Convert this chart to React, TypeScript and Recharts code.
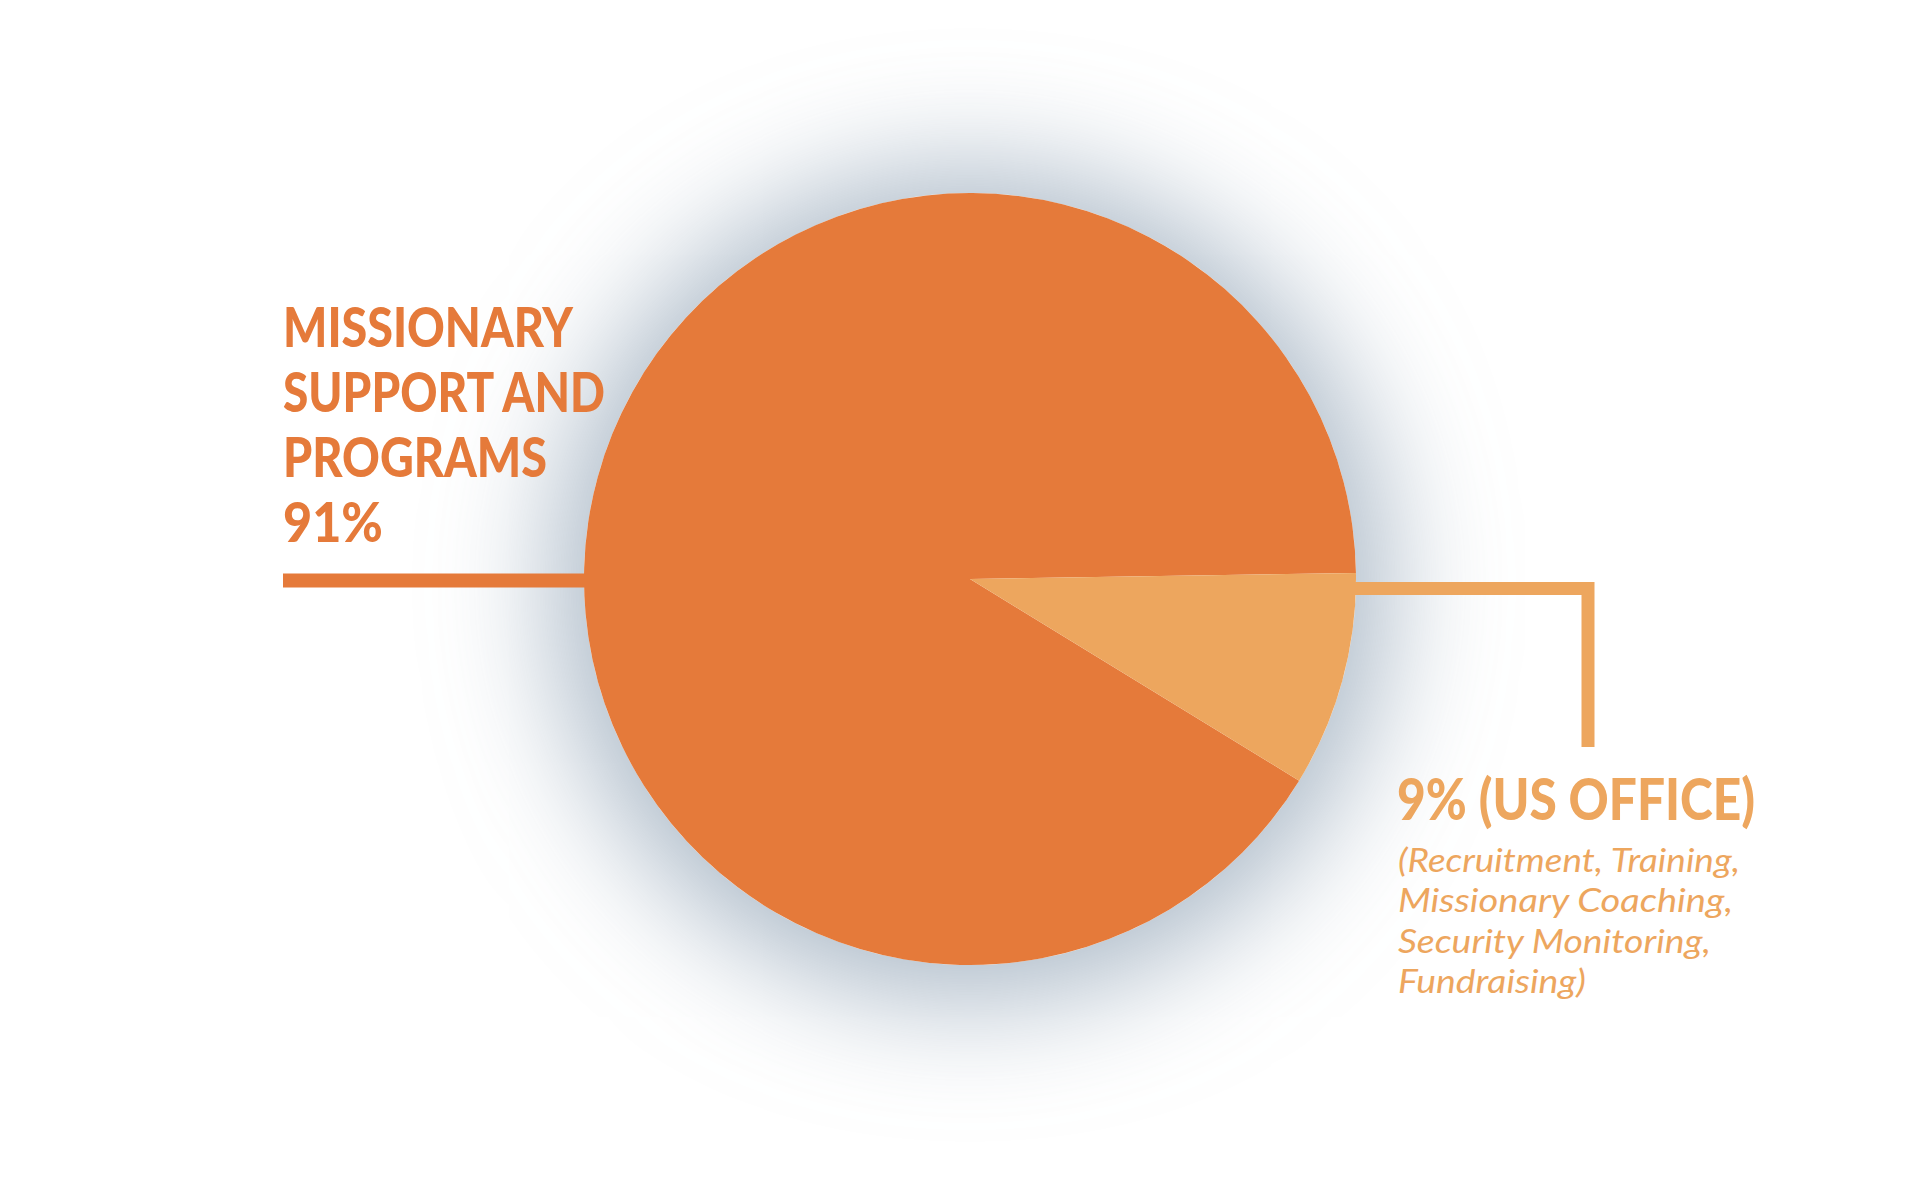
import React from "react";
import { PieChart, Pie, Cell } from "recharts";

const categories = ["Missionary Support and Programs", "US Office"];
const shares = [91, 9];
const colors = ["#E57A3A", "#EDA65E"];
const leftLabelLines = ["MISSIONARY", "SUPPORT AND", "PROGRAMS", "91%"];
const leftLabelWidths = [290, 322, 264, 100];
const rightHeading = "9% (US OFFICE)";
const rightHeadingWidth = 358;
const rightDetailLines = [
  "(Recruitment, Training,",
  "Missionary Coaching,",
  "Security Monitoring,",
  "Fundraising)",
];
const rightDetailWidths = [342, 335, 313, 188];

const data = categories.map((name, i) => ({ name, value: shares[i] }));

const CX = 970;
const CY = 579;
const R = 386;

const headFont = "Lato, Roboto, 'Open Sans', sans-serif";
const bodyFont = "Lato, 'Open Sans', sans-serif";

function renderLabel(props: any) {
  const { cx, cy, outerRadius, index } = props;
  if (index === 0) {
    return (
      <g key="lbl0">
        {leftLabelLines.map((t, i) => (
          <text
            key={i}
            x={cx - 687}
            y={cy - 232 + i * 65}
            fill={colors[0]}
            fontFamily={headFont}
            fontWeight={900}
            fontSize={56}
            textAnchor="start"
            textLength={leftLabelWidths[i]}
            lengthAdjust="spacingAndGlyphs"
          >
            {t}
          </text>
        ))}
        <line
          x1={cx - 687}
          y1={cy + 1.5}
          x2={cx - outerRadius + 3}
          y2={cy + 1.5}
          stroke={colors[0]}
          strokeWidth={14}
        />
      </g>
    );
  }
  return (
    <g key="lbl1">
      <polyline
        points={`${cx + outerRadius - 4},${cy + 9.5} ${cx + 618},${cy + 9.5} ${cx + 618},${cy + 168}`}
        fill="none"
        stroke={colors[1]}
        strokeWidth={13}
        strokeLinejoin="miter"
      />
      <text
        x={cx + 427}
        y={cy + 241}
        fill={colors[1]}
        fontFamily={headFont}
        fontWeight={900}
        fontSize={58}
        textLength={rightHeadingWidth}
        lengthAdjust="spacingAndGlyphs"
      >
        {rightHeading}
      </text>
      {rightDetailLines.map((t, i) => (
        <text
          key={i}
          x={cx + 428}
          y={cy + 293 + i * 40.4}
          fill={colors[1]}
          fontFamily={bodyFont}
          fontStyle="italic"
          fontSize={33.5}
          textLength={rightDetailWidths[i]}
          lengthAdjust="spacingAndGlyphs"
        >
          {t}
        </text>
      ))}
    </g>
  );
}

export default function App() {
  return (
    <div style={{ position: "relative", left: -8, top: -8, width: 1920, height: 1178, background: "#ffffff", overflow: "hidden" }}>
      <div
        style={{
          position: "absolute",
          left: CX - R,
          top: CY - R,
          width: 2 * R,
          height: 2 * R,
          borderRadius: "50%",
          boxShadow: "0 6px 120px 30px rgba(120,142,165,0.62)",
        }}
      />
      <div style={{ position: "absolute", left: 0, top: 0 }}>
        <PieChart width={1920} height={1178} margin={{ top: 0, right: 0, bottom: 0, left: 0 }}>
          <Pie
            data={data}
            dataKey="value"
            nameKey="name"
            cx={CX}
            cy={CY}
            outerRadius={R}
            innerRadius={0}
            startAngle={0.9}
            endAngle={360.9}
            stroke="none"
            strokeWidth={0}
            label={renderLabel}
            labelLine={false}
            isAnimationActive={false}
          >
            {data.map((d, i) => (
              <Cell key={d.name} fill={colors[i]} stroke="none" strokeWidth={0} />
            ))}
          </Pie>
        </PieChart>
      </div>
    </div>
  );
}
